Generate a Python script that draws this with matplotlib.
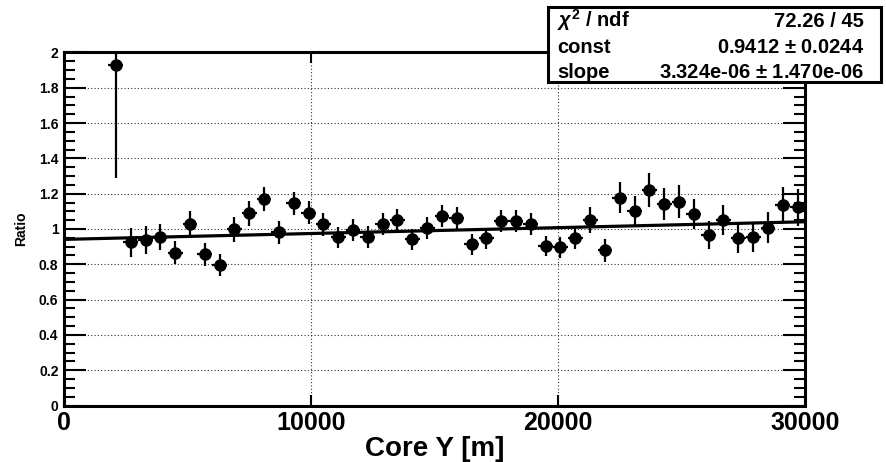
import numpy as np
import matplotlib.pyplot as plt
from matplotlib.patches import Rectangle

# bin centres (600 m bins) and measured ratio per bin
core_y = [2100, 2700, 3300, 3900, 4500, 5100, 5700, 6300, 6900, 7500,
          8100, 8700, 9300, 9900, 10500, 11100, 11700, 12300, 12900, 13500,
          14100, 14700, 15300, 15900, 16500, 17100, 17700, 18300, 18900, 19500,
          20100, 20700, 21300, 21900, 22500, 23100, 23700, 24300, 24900, 25500,
          26100, 26700, 27300, 27900, 28500, 29100, 29700]
ratio = [1.93, 0.925, 0.938, 0.956, 0.866, 1.028, 0.858, 0.796, 0.998, 1.089,
         1.17, 0.981, 1.145, 1.093, 1.028, 0.953, 0.994, 0.956, 1.028, 1.051,
         0.941, 1.006, 1.074, 1.064, 0.913, 0.947, 1.045, 1.045, 1.028, 0.906,
         0.896, 0.947, 1.051, 0.879, 1.178, 1.104, 1.221, 1.142, 1.155, 1.085,
         0.966, 1.051, 0.951, 0.956, 1.008, 1.136, 1.123]
ratio_err = [0.64, 0.083, 0.08, 0.075, 0.065, 0.075, 0.065, 0.06, 0.07, 0.07,
             0.07, 0.065, 0.065, 0.065, 0.065, 0.061, 0.062, 0.062, 0.062, 0.062,
             0.06, 0.062, 0.063, 0.063, 0.06, 0.06, 0.062, 0.062, 0.062, 0.057,
             0.06, 0.062, 0.073, 0.066, 0.09, 0.085, 0.094, 0.09, 0.092, 0.085,
             0.08, 0.085, 0.085, 0.085, 0.09, 0.104, 0.104]
half_bin = 300

# fit results
const = 0.9412
slope = 3.324e-06
stat_labels = ['$\\chi^2$ / ndf', 'const', 'slope']
stat_values = ['72.26 / 45', '0.9412 $\\pm$ 0.0244', '3.324e-06 $\\pm$ 1.470e-06']

x_range = (0, 30000)

plt.rcParams['font.family'] = ['Liberation Sans', 'DejaVu Sans']
plt.rcParams['font.weight'] = 'bold'
plt.rcParams['mathtext.fontset'] = 'custom'
plt.rcParams['mathtext.rm'] = 'Liberation Sans:bold'
plt.rcParams['mathtext.it'] = 'Liberation Sans:bold:italic'

fig = plt.figure(figsize=(8.86, 4.62), dpi=100)
ax = fig.add_axes([64 / 886, 1 - 405.5 / 462, (805 - 64) / 886, (405.5 - 52.5) / 462])

ax.errorbar(core_y, ratio, xerr=half_bin, yerr=ratio_err, fmt='o', color='black',
            markersize=8, elinewidth=1.6, capsize=0, zorder=3)

fx = np.array(x_range)
ax.plot(fx, const + slope * fx, color='black', lw=2.3, zorder=2)

ax.set_xlim(x_range)
ax.set_ylim(0, 2)
ax.set_xticks([0, 10000, 20000, 30000])
ax.set_yticks(np.arange(0, 2.01, 0.2))
ax.set_yticklabels(['0', '0.2', '0.4', '0.6', '0.8', '1', '1.2', '1.4', '1.6', '1.8', '2'])
ax.set_yticks(np.arange(0, 2.001, 0.05), minor=True)
ax.grid(True, which='major', color='#333333', linestyle=(0, (1, 2)), lw=0.8)

ax.tick_params(axis='y', which='major', direction='in', length=16, width=1.5,
               left=True, right=True, labelsize=10, pad=4)
ax.tick_params(axis='y', which='minor', direction='in', length=8, width=1.5,
               left=True, right=True)
ax.tick_params(axis='x', which='major', direction='in', length=8, width=1.5,
               top=True, bottom=True, labelsize=18, pad=4)
for lab in ax.get_xticklabels():
    lab.set_weight('bold')
for lab in ax.get_yticklabels():
    lab.set_weight('bold')
for s in ax.spines.values():
    s.set_linewidth(2.2)

ax.set_xlabel('Core Y [m]', fontsize=20, fontweight='bold', labelpad=1)
ax.set_ylabel('Ratio', fontsize=10, fontweight='bold', labelpad=8)

# stats box
box = Rectangle((548 / 886, 1 - 82 / 462), (881 - 548) / 886, 75 / 462,
                transform=fig.transFigure, facecolor='white', edgecolor='black',
                lw=2.2, zorder=10)
fig.patches.append(box)
rows_y = [27, 53, 78]
for lab, val, yy in zip(stat_labels, stat_values, rows_y):
    fig.text(557 / 886, 1 - yy / 462, lab, ha='left', va='baseline', fontsize=14.5,
             fontweight='bold', zorder=11)
    fig.text(864 / 886, 1 - yy / 462, val, ha='right', va='baseline', fontsize=14.5,
             fontweight='bold', zorder=11)

fig.savefig('out.png', dpi=100)
